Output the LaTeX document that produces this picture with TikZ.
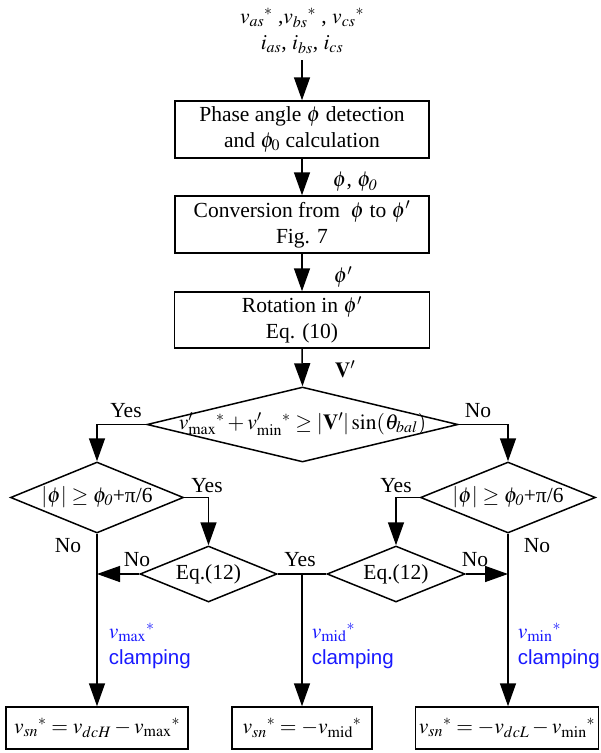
\documentclass[tikz,border=0pt]{standalone}
\usepackage{mathptmx}
\usepackage{fontspec}
\setmainfont{Liberation Serif}
\newfontfamily\lsans{Liberation Sans}
\usetikzlibrary{shapes.geometric,arrows.meta}
\definecolor{clampblue}{RGB}{25,25,255}
\begin{document}
\begin{tikzpicture}[x=1pt,y=-1pt,line width=1.5pt,
  every node/.style={font=\fontsize{21.5}{26}\selectfont,inner sep=0pt},
  box/.style={draw,rectangle,align=center},
  diam/.style={draw,diamond,minimum width=#1},
  arr/.style={-{Triangle[length=23pt,width=16pt]}},
  clamp/.style={anchor=west,align=left,text=clampblue}]
\useasboundingbox (0,0) rectangle (601,753);
% top inputs
\node[align=center] (inp) at (302,31) {$v_{as}{}^{*}$ ,$v_{bs}{}^{*}$ , $v_{cs}{}^{*}$\\$i_{as}$, $i_{bs}$, $i_{cs}$};
\coordinate (inpend) at (302,60);
% boxes
\node[box,minimum width=254pt,minimum height=57pt] (b1) at (302,129.5) {Phase angle $\phi$ detection\\and $\phi_0$ calculation};
\node[box,minimum width=254pt,minimum height=57pt] (b2) at (302,224.5) {Conversion from\ \ $\phi$ to $\phi'$\\Fig. 7};
\node[box,minimum width=255pt,minimum height=56pt] (b3) at (302,320) {Rotation in $\phi'$\\Eq. (10)};
% main diamond
\node[diam=311pt,minimum height=75pt] (d1) at (302.5,424.5) {};
\node (d1t) at (302.5,424) {$v'_{\max}{}^{*}+v'_{\min}{}^{*}\geq|\mathbf{V}'|\sin(\theta_{bal})$};
% second level diamonds
\node[diam=173pt,minimum height=71pt] (dL) at (97,497.5) {};
\node (dLt) at (97,497) {$|\phi|\geq\phi_{\mathit{0}}$+π/6};
\node[diam=175pt,minimum height=71pt] (dR) at (508,497.5) {};
\node (dRt) at (508,497) {$|\phi|\geq\phi_{\mathit{0}}$+π/6};
% Eq(12) diamonds
\node[diam=137pt,minimum height=56pt] (eL) at (208.5,574) {};
\node (eLt) at (208.5,574) {Eq.(12)};
\node[diam=138pt,minimum height=56pt] (eR) at (396,574) {};
\node (eRt) at (396,574) {Eq.(12)};
\coordinate (mid) at (302,574);
% bottom boxes
\node[box,minimum width=182pt,minimum height=42pt] (bL) at (97,728) {$v_{sn}{}^{*}=v_{dcH}-v_{\max}{}^{*}$};
\node[box,minimum width=140pt,minimum height=42pt] (bM) at (302,728) {$v_{sn}{}^{*}=-v_{\mathrm{mid}}{}^{*}$};
\node[box,minimum width=183pt,minimum height=42pt] (bR) at (507,728) {$v_{sn}{}^{*}=-v_{dcL}-v_{\min}{}^{*}$};
% signal labels
\node (l1) at (355,182) {$\phi$, $\phi_{\mathit{0}}$};
\node (l2) at (343,277) {$\phi'$};
\node (l3) at (345,369) {$\mathbf{V}'$};
% yes / no labels
\node (y1) at (126,411) {Yes};
\node (n1) at (478,411) {No};
\node (y2) at (207,486) {Yes};
\node (n2) at (68,546) {No};
\node (n3) at (137,560) {No};
\node (y3) at (300,560) {Yes};
\node (y4) at (396,486) {Yes};
\node (n4) at (475,560) {No};
\node (n5) at (537,546) {No};
% clamping labels
\node[clamp] (c1) at (108,646) {$v_{\max}{}^{*}$\\{\lsans\fontsize{20.5}{25}\selectfont clamping}};
\node[clamp] (c2) at (311,646) {$v_{\mathrm{mid}}{}^{*}$\\{\lsans\fontsize{20.5}{25}\selectfont clamping}};
\node[clamp] (c3) at (517,646) {$v_{\min}{}^{*}$\\{\lsans\fontsize{20.5}{25}\selectfont clamping}};
% connectors
\draw[arr] (inpend) -- (b1.north);
\draw[arr] (b1.south) -- (b2.north);
\draw[arr] (b2.south) -- (b3.north);
\draw[arr] (b3.south) -- (d1.north);
\draw[arr] (d1.west) -| (dL.north);
\draw[arr] (d1.east) -| (dR.north);
\draw[arr] (dL.east) -| (eL.north);
\draw[arr] (dR.west) -| (eR.north);
\draw[arr] (eL.west) -- (eL.west -| dL.south);
\draw[arr] (eR.east) -- (eR.east -| dR.south);
\draw (eL.east) -- (eR.west);
\draw[arr] (dL.south) -- (bL.north);
\draw[arr] (mid) -- (bM.north);
\draw[arr] (dR.south) -- (bR.north -| dR.south);
\end{tikzpicture}
\end{document}
